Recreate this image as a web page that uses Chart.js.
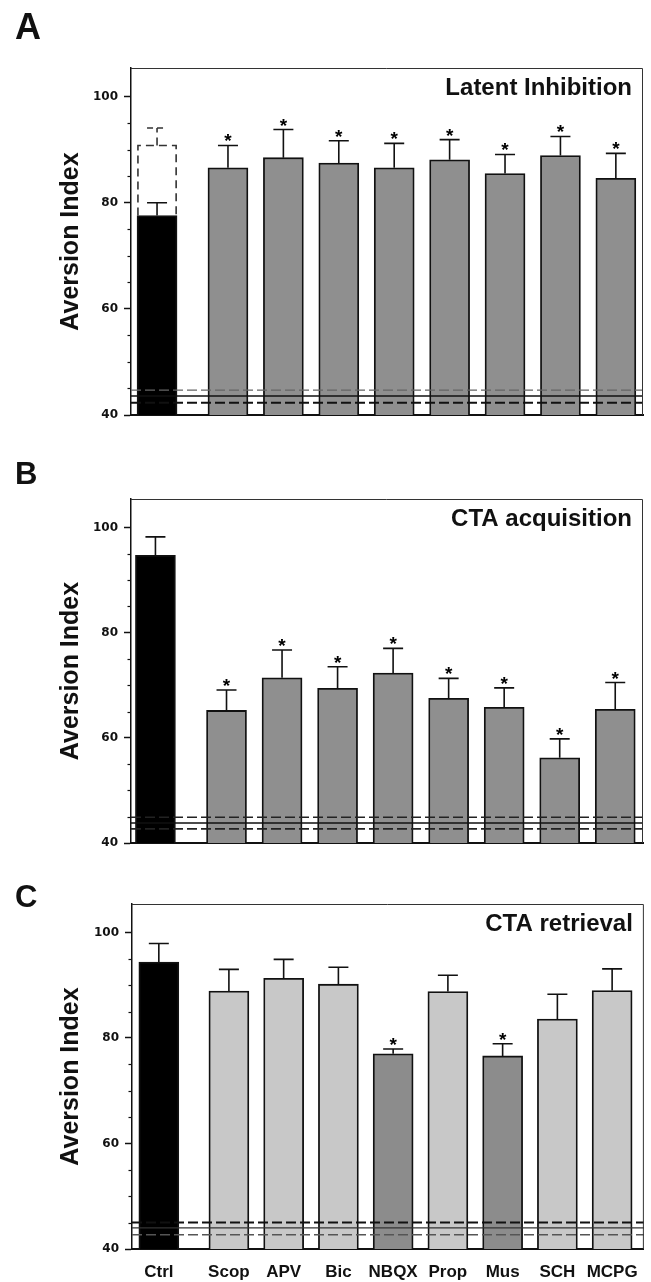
<!DOCTYPE html>
<html><head><meta charset="utf-8">
<script src="https://cdn.jsdelivr.net/npm/chart.js@4.4.0/dist/chart.umd.min.js"></script>
<style>
html,body{margin:0;padding:0;background:#fff;}
body{width:651px;height:1282px;position:relative;overflow:hidden;}
canvas{position:absolute;left:0;}
</style></head><body>
<canvas id="cA" width="651" height="440" style="top:0px"></canvas>
<canvas id="cB" width="651" height="430" style="top:440px"></canvas>
<canvas id="cC" width="651" height="412" style="top:870px"></canvas>
<script>
// ---------- DATA ----------
const categories = ['Ctrl', 'Scop', 'APV', 'Bic', 'NBQX', 'Prop', 'Mus', 'SCH', 'MCPG'];
const yTickLabels = [40, 60, 80, 100];

// Panel A: Latent Inhibition
const valuesA = [77.6, 86.6, 88.5, 87.5, 86.6, 88.1, 85.5, 88.9, 84.6];
const semA    = [2.4, 4.2, 5.3, 4.2, 4.6, 3.8, 3.6, 3.6, 4.7];
const starsA  = [0, 1, 1, 1, 1, 1, 1, 1, 1];
const ctrlNonPreexposedA = 90.8;
const ctrlNonPreexposedSemA = 3.3;
const chanceLinesA = [44.7, 43.6, 42.3];

// Panel B: CTA acquisition
const valuesB = [94.7, 65.2, 71.4, 69.4, 72.3, 67.5, 65.8, 56.2, 65.4];
const semB    = [3.5, 3.9, 5.3, 4.1, 4.7, 3.8, 3.7, 3.6, 5.1];
const starsB  = [0, 1, 1, 1, 1, 1, 1, 1, 1];
const chanceLinesB = [44.9, 43.8, 42.7];

// Panel C: CTA retrieval
const valuesC = [94.4, 88.9, 91.3, 90.2, 77.0, 88.8, 76.6, 83.6, 89.0];
const semC    = [3.5, 4.1, 3.6, 3.2, 0.9, 3.1, 2.3, 4.7, 4.1];
const starsC  = [0, 0, 0, 0, 1, 0, 1, 0, 0];
const chanceLinesC = [45.0, 44.0, 42.7];

// ---------- LAYOUT / STYLE ----------
const ctrlGap = 0.28;                       // extra spacing after the control bar
const xPos = categories.map((c, i) => i === 0 ? 0 : i + ctrlGap);
const FONT = 'Liberation Sans, Arial, Helvetica, sans-serif';

function colorsFor(stars, base, sig, ctrl) {
  return stars.map((s, i) => i === 0 ? ctrl : (s ? sig : base));
}

function makePanel(id, o) {
  const ctx = document.getElementById(id).getContext('2d');
  const datasets = [{
    data: xPos.map((x, i) => ({x: x, y: o.values[i]})),
    backgroundColor: o.colors,
    borderColor: '#111',
    borderWidth: 1.8,
    barThickness: 40,
    grouped: false
  }];
  if (o.ghost != null) {
    datasets.push({
      data: [{x: xPos[0], y: o.ghost}],
      backgroundColor: 'rgba(0,0,0,0)',
      borderWidth: 0,
      barThickness: 40,
      grouped: false
    });
  }
  const panelPlugin = {
    id: 'panelDeco',
    afterDatasetsDraw(chart) {
      const c = chart.ctx, ys = chart.scales.y, area = chart.chartArea;
      const meta = chart.getDatasetMeta(0);
      c.save();
      // dashed outline of the non-preexposed control (panel A)
      if (o.ghost != null) {
        const el = chart.getDatasetMeta(1).data[0];
        const left = el.x - el.width / 2 + 0.9, right = el.x + el.width / 2 - 0.9;
        const top = ys.getPixelForValue(o.ghost);
        const bot = ys.getPixelForValue(o.values[0]);
        const et = ys.getPixelForValue(o.ghost + o.ghostSem);
        c.strokeStyle = '#333'; c.lineWidth = 1.6; c.setLineDash([8, 5]);
        c.beginPath();
        c.moveTo(left, bot); c.lineTo(left, top); c.lineTo(right, top); c.lineTo(right, bot);
        c.stroke();
        c.beginPath();
        c.moveTo(el.x, top); c.lineTo(el.x, et);
        c.stroke();
        c.setLineDash([6, 4]);
        c.beginPath();
        c.moveTo(el.x - 10, et); c.lineTo(el.x + 10, et);
        c.stroke();
        c.setLineDash([]);
      }
      // error bars + stars
      meta.data.forEach((el, i) => {
        const top = ys.getPixelForValue(o.values[i]);
        const et = ys.getPixelForValue(o.values[i] + o.sem[i]);
        c.strokeStyle = '#111'; c.lineWidth = 1.6; c.setLineDash([]);
        c.beginPath();
        c.moveTo(el.x, top); c.lineTo(el.x, et);
        c.moveTo(el.x - 10, et); c.lineTo(el.x + 10, et);
        c.stroke();
        if (o.stars[i]) {
          c.fillStyle = '#000';
          c.font = 'bold 19px ' + FONT;
          c.textAlign = 'center'; c.textBaseline = 'alphabetic';
          c.fillText('*', el.x, et + 2);
        }
      });
      // chance-level reference lines
      const styles = o.lineStyles;
      o.lines.forEach((v, k) => {
        const y = ys.getPixelForValue(v);
        const s = styles[k];
        c.strokeStyle = s.color; c.lineWidth = s.width; c.setLineDash(s.dash);
        c.beginPath(); c.moveTo(area.left, y); c.lineTo(area.right, y); c.stroke();
      });
      c.setLineDash([]);
      // box top / right
      c.strokeStyle = '#333'; c.lineWidth = 1;
      c.beginPath();
      c.moveTo(area.left, area.top + 0.5); c.lineTo(area.right - 0.5, area.top + 0.5);
      c.lineTo(area.right - 0.5, area.bottom);
      c.stroke();
      // minor ticks
      c.strokeStyle = '#111'; c.lineWidth = 1.2;
      for (let v = ys.min + 5; v < ys.max - 1; v += 5) {
        if (v % 20 === 0) continue;
        const y = Math.round(ys.getPixelForValue(v)) + 0.5;
        c.beginPath(); c.moveTo(area.left - 3.5, y); c.lineTo(area.left, y); c.stroke();
      }
      // panel title inside box
      c.fillStyle = '#111';
      c.font = 'bold 24px ' + FONT;
      c.textAlign = 'right'; c.textBaseline = 'alphabetic';
      c.fillText(o.title, area.right - 11, area.top + 27);
      // panel letter
      c.font = 'bold ' + o.letterSize + 'px ' + FONT;
      c.textAlign = 'left';
      c.fillText(o.letter, 15, o.letterBaseline);
      c.restore();
    }
  };
  return new Chart(ctx, {
    type: 'bar',
    data: {datasets: datasets},
    options: {
      responsive: false,
      animation: false,
      devicePixelRatio: 1,
      layout: {padding: {left: 52, right: o.padRight, top: o.padTop, bottom: 0}},
      plugins: {legend: {display: false}, tooltip: {enabled: false}, title: {display: false}},
      scales: {
        x: {
          type: 'linear',
          offset: false,
          min: o.xMin, max: o.xMax,
          grid: {display: false, drawTicks: false, offset: false},
          border: {display: true, color: '#111', width: 2},
          afterBuildTicks(s) { s.ticks = xPos.map(v => ({value: v})); },
          afterFit(s) { s.height = o.xHeight; },
          ticks: {
            display: o.showX,
            autoSkip: false, maxRotation: 0,
            padding: 13,
            color: '#111',
            font: {family: FONT, size: 17, weight: 'bold'},
            callback: (v, i) => categories[i]
          }
        },
        y: {
          min: 40, max: 105.4,
          afterBuildTicks(s) { s.ticks = yTickLabels.map(v => ({value: v})); },
          afterFit(s) { s.width = o.yWidth; },
          grid: {display: true, drawOnChartArea: false, drawTicks: true, tickLength: 7, tickWidth: 1.5, color: '#111'},
          border: {display: true, color: '#111', width: 1.5},
          ticks: {
            padding: 6,
            color: '#111',
            font: {family: 'DejaVu Sans', size: 12, weight: 'bold'}
          },
          title: {
            display: true, text: 'Aversion Index', color: '#111',
            font: {family: FONT, size: 25, weight: 'bold'},
            padding: {top: 4, bottom: 4}
          }
        }
      }
    },
    plugins: [panelPlugin]
  });
}

const lineStylesA = [
  {color: '#666', width: 1.2, dash: [10, 4]},
  {color: '#111', width: 1.5, dash: []},
  {color: '#111', width: 2, dash: [10, 4]}
];
const lineStylesB = [
  {color: '#222', width: 1.6, dash: [10, 4]},
  {color: '#111', width: 1.5, dash: []},
  {color: '#222', width: 1.8, dash: [10, 4]}
];
const lineStylesC = [
  {color: '#111', width: 2, dash: [10, 4]},
  {color: '#333', width: 1.2, dash: []},
  {color: '#555', width: 1.4, dash: [10, 4]}
];

makePanel('cA', {
  values: valuesA, sem: semA, stars: starsA,
  colors: colorsFor(starsA, '#8f8f8f', '#8f8f8f', '#000'),
  ghost: ctrlNonPreexposedA, ghostSem: ctrlNonPreexposedSemA,
  lines: chanceLinesA, lineStyles: lineStylesA,
  title: 'Latent Inhibition', letter: 'A', letterSize: 36, letterBaseline: 39,
  padTop: 68, padRight: 8, yWidth: 79, xHeight: 25, showX: false,
  xMin: -0.47, xMax: 8.77
});
makePanel('cB', {
  values: valuesB, sem: semB, stars: starsB,
  colors: colorsFor(starsB, '#8f8f8f', '#8f8f8f', '#000'),
  ghost: null,
  lines: chanceLinesB, lineStyles: lineStylesB,
  title: 'CTA acquisition', letter: 'B', letterSize: 31, letterBaseline: 44,
  padTop: 59, padRight: 8, yWidth: 79, xHeight: 27, showX: false,
  xMin: -0.44, xMax: 8.78
});
makePanel('cC', {
  values: valuesC, sem: semC, stars: starsC,
  colors: colorsFor(starsC, '#c8c8c8', '#8c8c8c', '#000'),
  ghost: null,
  lines: chanceLinesC, lineStyles: lineStylesC,
  title: 'CTA retrieval', letter: 'C', letterSize: 31, letterBaseline: 37,
  padTop: 34, padRight: 6, yWidth: 80, xHeight: 33, showX: true,
  xMin: -0.49, xMax: 8.86
});
</script>
</body></html>
